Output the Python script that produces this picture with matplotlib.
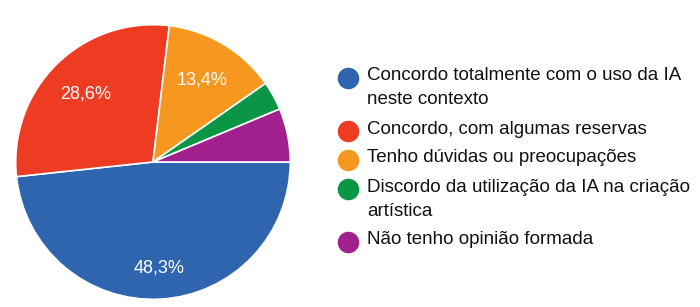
import numpy as np
import matplotlib.pyplot as plt

# Dados do gráfico
categorias = ["Concordo totalmente com o uso da IA\nneste contexto",
              "Concordo, com algumas reservas",
              "Tenho dúvidas ou preocupações",
              "Discordo da utilização da IA na criação\nartística",
              "Não tenho opinião formada"]
valores = [48.3, 28.6, 13.4, 3.4, 6.3]
cores = ["#2F64AE", "#EE3C23", "#F6981F", "#0A9645", "#A2208D"]

plt.rcParams["font.family"] = ["Liberation Sans", "DejaVu Sans"]

W, H = 700, 307
fig = plt.figure(figsize=(W / 100, H / 100), dpi=100)

# Pizza: centro (153,162) px, raio 138 px
cx, cy, r = 153, 162, 138
ax = fig.add_axes([(cx - r) / W, (H - cy - r) / H, 2 * r / W, 2 * r / H])

def rotulo(p):
    return f"{p:.1f}%".replace(".", ",") if p > 10 else ""

fatias, textos, autotextos = ax.pie(valores, colors=cores, startangle=0, counterclock=False,
                                    autopct=rotulo, pctdistance=0.7,
                                    wedgeprops=dict(edgecolor="white", linewidth=1.2),
                                    textprops=dict(color="white", fontsize=13))
# rótulo da maior fatia um pouco mais para fora
t1, t2 = fatias[0].theta1, fatias[0].theta2
meio = np.deg2rad((t1 + t2) / 2)
autotextos[0].set_position((0.77 * np.cos(meio), 0.77 * np.sin(meio)))
ax.set_xlim(-1.005, 1.005)
ax.set_ylim(-1.005, 1.005)
ax.set_aspect("equal")

# Legenda
y = 76
for cat, cor in zip(categorias, cores):
    linhas = cat.split("\n")
    fig.add_artist(plt.Line2D([348 / W], [1 - (y + 2) / H], marker="o", markersize=14.5,
                              color=cor, linestyle="none", transform=fig.transFigure))
    for i, linha in enumerate(linhas):
        fig.text(367 / W, 1 - (y + i * 24) / H, linha, fontsize=13.5, color="#111111",
                 va="center", ha="left")
    y += 24 * (len(linhas) - 1) + 29

fig.savefig("out.png", dpi=100)
